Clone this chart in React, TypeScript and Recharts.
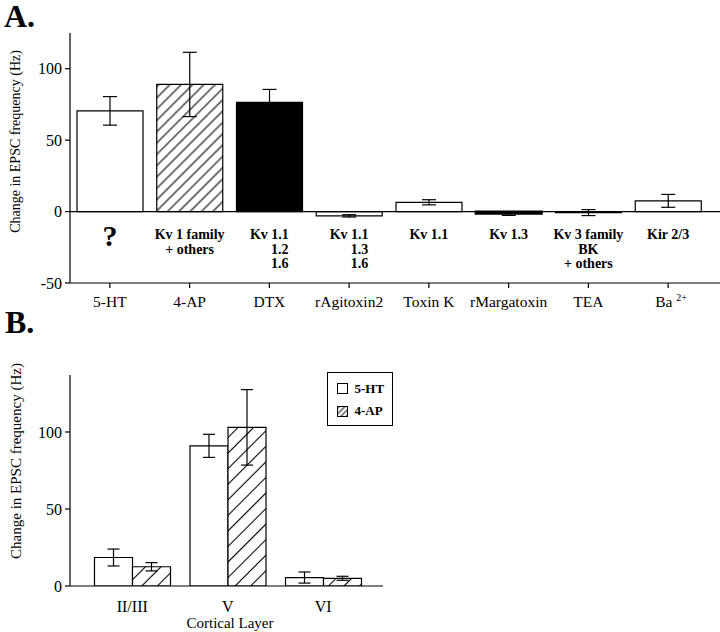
import React from 'react';
import { BarChart, Bar, XAxis, YAxis, ErrorBar, Cell, ReferenceLine, Legend } from 'recharts';

// ---------- Panel A data ----------
const treatments = ['5-HT', '4-AP', 'DTX', 'rAgitoxin2', 'Toxin K', 'rMargatoxin', 'TEA', 'Ba2+'];
const treatmentChange = [70.5, 89, 76.5, -3, 6.5, -1.5, -0.7, 7.5];
const treatmentSem = [10, 22.5, 9, 0.8, 1.8, 1.2, 2.1, 4.5];
const treatmentTargets = [
  ['?'],
  ['Kv 1 family', '+ others'],
  ['Kv 1.1', '1.2', '1.6'],
  ['Kv 1.1', '1.3', '1.6'],
  ['Kv 1.1'],
  ['Kv 1.3'],
  ['Kv 3 family', 'BK', '+ others'],
  ['Kir 2/3'],
];
const yTicksA = [-50, 0, 50, 100];

// ---------- Panel B data ----------
const layers = ['II/III', 'V', 'VI'];
const seriesB = ['5-HT', '4-AP'];
const serotoninChange = [18.5, 91, 5.5];
const serotoninSem = [5.5, 7.5, 3.6];
const apChange = [12.5, 103, 5];
const apSem = [2.7, 24.5, 1.3];
const yTicksB = [0, 50, 100];

const FONT = "'Liberation Serif', 'Times New Roman', Times, serif";

const fillsA = ['#fff', 'url(#hatchA)', '#000', '#fff', '#fff', '#fff', '#fff', '#fff'];

const dataA = treatments.map((t, i) => ({
  name: t,
  value: treatmentChange[i],
  err: treatmentSem[i],
}));

const dataB = layers.map((l, i) => ({
  name: l,
  ht: serotoninChange[i],
  htErr: serotoninSem[i],
  ap: apChange[i],
  apErr: apSem[i],
}));

const TickA = (props: any) => {
  const { x, y, payload } = props;
  const name: string = payload.value;
  const idx = treatments.indexOf(name);
  const axisY = y - 5;
  const lines = treatmentTargets[idx] || [];
  const m = name.match(/^([A-Za-z]+)(\d\+)$/);
  return (
    <g>
      {lines[0] === '?' ? (
        <text x={x} y={axisY - 37} textAnchor="middle" fontFamily={FONT} fontWeight="bold" fontSize={30} fill="#000">?</text>
      ) : (
        lines.map((ln, i) => {
          const isNum = /^\d/.test(ln);
          return (
            <text
              key={i}
              x={isNum ? x + 19 : x}
              y={axisY - 44 + i * 14.5}
              textAnchor={isNum ? 'end' : 'middle'}
              fontFamily={FONT}
              fontWeight="bold"
              fontSize={14}
              fill="#000"
            >
              {ln}
            </text>
          );
        })
      )}
      {m ? (
        <text x={x + 3} y={axisY + 24} textAnchor="middle" fontFamily={FONT} fontSize={15.5} fill="#000">
          {m[1] + ' '}
          <tspan dy={-6} fontSize={10}>{m[2]}</tspan>
        </text>
      ) : (
        <text x={x} y={axisY + 24} textAnchor="middle" fontFamily={FONT} fontSize={15.5} fill="#000">
          {name}
        </text>
      )}
    </g>
  );
};

const TickB = (props: any) => {
  const { x, payload } = props;
  const axisY = props.y - 15;
  return (
    <text x={x} y={axisY + 26} textAnchor="middle" fontFamily={FONT} fontSize={16} fill="#000">
      {payload.value}
    </text>
  );
};

const LegendB = () => (
  <div
    style={{
      position: 'relative',
      width: 66,
      height: 54,
      border: '1.5px solid #000',
      boxSizing: 'border-box',
      background: '#fff',
      fontFamily: FONT,
      fontWeight: 'bold',
      fontSize: 13,
      color: '#000',
    }}
  >
    {seriesB.map((n, i) => (
      <div
        key={n}
        style={{
          position: 'absolute',
          left: 8.5,
          top: 9.5 + i * 22.7,
          display: 'flex',
          alignItems: 'center',
          height: 12,
          lineHeight: '12px',
          whiteSpace: 'nowrap',
        }}
      >
        <svg width={11} height={11} style={{ display: 'block' }}>
          <defs>
            <pattern id="hatchLegend" patternUnits="userSpaceOnUse" width={4} height={4} patternTransform="rotate(45)">
              <rect width={4} height={4} fill="#fff" />
              <line x1={2} y1={0} x2={2} y2={4} stroke="#000" strokeWidth={1} />
            </pattern>
          </defs>
          <rect x={0.5} y={0.5} width={10} height={10} fill={i === 0 ? '#fff' : 'url(#hatchLegend)'} stroke="#000" strokeWidth={1} />
        </svg>
        <span style={{ marginLeft: 7 }}>{n}</span>
      </div>
    ))}
  </div>
);

export default function App() {
  return (
    <div style={{ position: 'absolute', left: 0, top: 0, width: 720, height: 632, background: '#fff' }}>
      <div style={{ position: 'absolute', left: 0, top: 0 }}>
        <BarChart width={720} height={320} data={dataA} margin={{ top: 33, right: 0, bottom: 0, left: 0 }} barCategoryGap={7}>
          <defs>
            <pattern id="hatchA" patternUnits="userSpaceOnUse" width={8} height={8} patternTransform="rotate(45)">
              <rect width={8} height={8} fill="#fff" />
              <line x1={4} y1={0} x2={4} y2={8} stroke="#000" strokeWidth={1.1} />
            </pattern>
          </defs>
          <XAxis
            dataKey="name"
            height={37}
            interval={0}
            tickSize={5}
            tickMargin={0}
            padding={{ left: 0, right: 12 }}
            axisLine={{ stroke: '#000', strokeWidth: 1.2 }}
            tickLine={{ stroke: '#000', strokeWidth: 1.2 }}
            tick={(p: any) => <TickA {...p} />}
          />
          <YAxis
            width={70}
            domain={[-50, 125]}
            ticks={yTicksA}
            allowDataOverflow
            tickSize={5}
            tickMargin={3}
            axisLine={{ stroke: '#000', strokeWidth: 1.2 }}
            tickLine={{ stroke: '#000', strokeWidth: 1.2 }}
            tick={{ fontSize: 16, fill: '#000', fontFamily: FONT }}
          />
          <ReferenceLine y={0} stroke="#000" strokeWidth={1.2} />
          <Bar dataKey="value" stroke="#000" strokeWidth={1.2} isAnimationActive={false}>
            {dataA.map((d, i) => (
              <Cell key={d.name} fill={fillsA[i]} strokeWidth={d.name === 'rMargatoxin' ? 2.2 : 1.2} />
            ))}
            <ErrorBar dataKey="err" width={7} stroke="#000" strokeWidth={1.2} />
          </Bar>
          <text x={4} y={27} fontFamily={FONT} fontWeight="bold" fontSize={32} fill="#000">A.</text>
          <text
            x={20}
            y={141.5}
            transform="rotate(-90 20 141.5)"
            textAnchor="middle"
            fontFamily={FONT}
            fontSize={14}
            fill="#000"
          >
            Change in EPSC frequency (Hz)
          </text>
        </BarChart>
      </div>
      <div style={{ position: 'absolute', left: 0, top: 300 }}>
        <BarChart
          width={720}
          height={332}
          data={dataB}
          margin={{ top: 75, right: 337, bottom: 0, left: 0 }}
          barCategoryGap={10}
          barGap={0}
        >
          <defs>
            <pattern id="hatchB" patternUnits="userSpaceOnUse" width={11} height={11} patternTransform="rotate(45)">
              <rect width={11} height={11} fill="#fff" />
              <line x1={5.5} y1={0} x2={5.5} y2={11} stroke="#000" strokeWidth={1.1} />
            </pattern>
          </defs>
          <XAxis
            dataKey="name"
            height={46}
            interval={0}
            tickLine={false}
            tickSize={5}
            tickMargin={10}
            padding={{ left: 14.5, right: 12 }}
            axisLine={{ stroke: '#000', strokeWidth: 1.2 }}
            tick={(p: any) => <TickB {...p} />}
          />
          <YAxis
            width={70}
            domain={[0, 137]}
            ticks={yTicksB}
            allowDataOverflow
            tickSize={5}
            tickMargin={3}
            axisLine={{ stroke: '#000', strokeWidth: 1.2 }}
            tickLine={{ stroke: '#000', strokeWidth: 1.2 }}
            tick={{ fontSize: 16, fill: '#000', fontFamily: FONT }}
          />
          <Legend
            layout="vertical"
            align="center"
            verticalAlign="middle"
            wrapperStyle={{ left: 327, top: 72, width: 66, height: 54 }}
            content={() => <LegendB />}
          />
          <Bar dataKey="ht" name={seriesB[0]} fill="#fff" stroke="#000" strokeWidth={1.2} isAnimationActive={false}>
            <ErrorBar dataKey="htErr" width={6} stroke="#000" strokeWidth={1.2} />
          </Bar>
          <Bar dataKey="ap" name={seriesB[1]} fill="url(#hatchB)" stroke="#000" strokeWidth={1.2} isAnimationActive={false}>
            <ErrorBar dataKey="apErr" width={6} stroke="#000" strokeWidth={1.2} />
          </Bar>
          <text x={5} y={32.7} fontFamily={FONT} fontWeight="bold" fontSize={32} fill="#000">B.</text>
          <text
            x={21}
            y={161}
            transform="rotate(-90 21 161)"
            textAnchor="middle"
            fontFamily={FONT}
            fontSize={15}
            fill="#000"
          >
            Change in EPSC frequency (Hz)
          </text>
          <text x={230} y={328} textAnchor="middle" fontFamily={FONT} fontSize={15} fill="#000">
            Cortical Layer
          </text>
        </BarChart>
      </div>
    </div>
  );
}
